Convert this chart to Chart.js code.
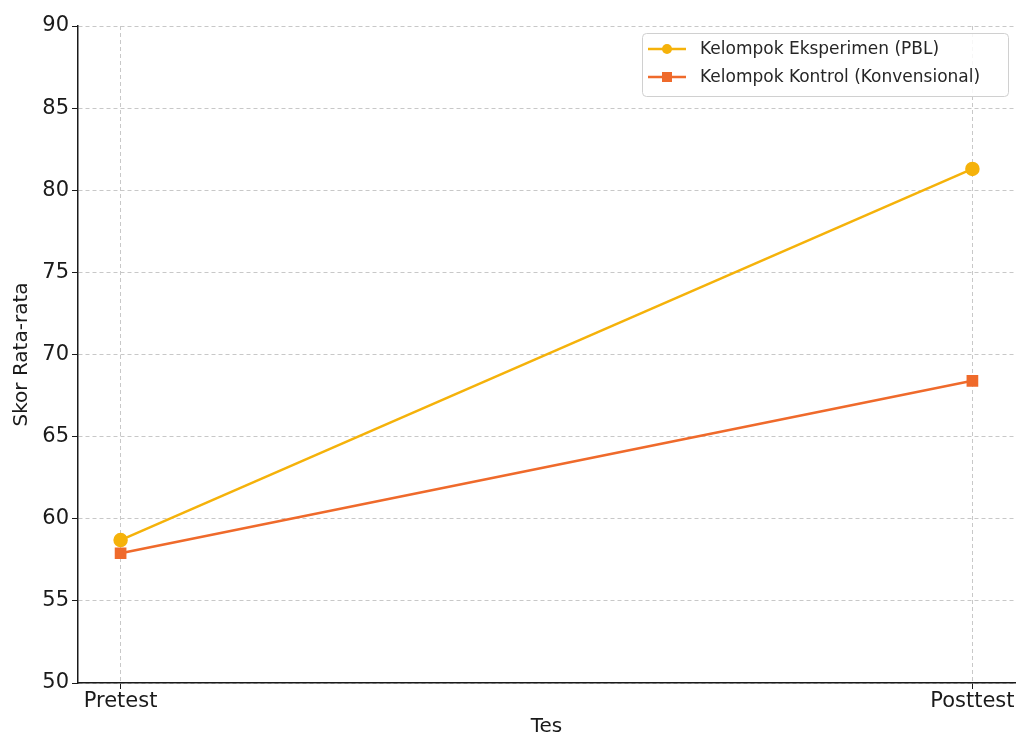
<!DOCTYPE html>
<html>
<head>
<meta charset="utf-8">
<script src="https://cdn.jsdelivr.net/npm/chart.js@4.4.1/dist/chart.umd.min.js"></script>
<style>
  html, body { margin: 0; padding: 0; background: #fff; overflow: hidden; }
  #wrap { width: 1017px; height: 735px; position: relative; overflow: hidden; }
  canvas { position: absolute; left: 0; top: 0; }
</style>
</head>
<body>
<div id="wrap"><canvas id="chart" width="1040" height="735"></canvas></div>
<script>
"use strict";

var categories = [ "Pretest", "Posttest" ];
var eksperimen = [ 58.7, 81.3 ];
var kontrol = [ 57.9, 68.4 ];
var yTicks = [ 50, 55, 60, 65, 70, 75, 80, 85, 90 ];

var FONT = "'DejaVu Sans', sans-serif";
var GOLD = "#f5b20a", ORANGE = "#ef6a2b";

function points(vals) {
    return vals.map(function(v, i) { return { x: i, y: v }; });
}

// legend box drawn like matplotlib's, upper right
var legendBox = {
    id: "legendBox",
    afterDraw: function(chart) {
        var ctx = chart.ctx, ds = chart.data.datasets;
        var x = 642, y = 33, w = 366, h = 63;
        ctx.save();
        ctx.fillStyle = "rgba(255,255,255,0.85)";
        ctx.strokeStyle = "#d0d0d0";
        ctx.lineWidth = 1;
        ctx.beginPath();
        ctx.roundRect(x + 0.5, y + 0.5, w, h, 4);
        ctx.fill(); ctx.stroke();
        ds.forEach(function(d, i) {
            var cy = y + 16 + i * 28;
            ctx.strokeStyle = d.borderColor;
            ctx.lineWidth = 2.5;
            ctx.beginPath(); ctx.moveTo(648, cy); ctx.lineTo(686, cy); ctx.stroke();
            ctx.fillStyle = d.backgroundColor;
            if (d.pointStyle === "rect") ctx.fillRect(662, cy - 5, 10, 10);
            else { ctx.beginPath(); ctx.arc(667, cy, 5, 0, Math.PI * 2); ctx.fill(); }
            ctx.fillStyle = "#262626";
            ctx.font = "17px " + FONT;
            ctx.textBaseline = "middle";
            ctx.fillText(d.label, 700, cy + 1);
        });
        ctx.restore();
    }
};

new Chart(document.getElementById("chart"), {
    type: "line",
    data: {
        datasets: [ {
            label: "Kelompok Eksperimen (PBL)",
            data: points(eksperimen),
            borderColor: GOLD,
            backgroundColor: GOLD,
            pointStyle: "circle",
            pointRadius: 6,
            borderWidth: 2.5
        }, {
            label: "Kelompok Kontrol (Konvensional)",
            data: points(kontrol),
            borderColor: ORANGE,
            backgroundColor: ORANGE,
            pointStyle: "rect",
            pointRadius: 6.5,
            borderWidth: 2.5
        } ]
    },
    plugins: [ legendBox ],
    options: {
        responsive: false,
        animation: false,
        devicePixelRatio: 1,
        layout: { padding: { left: 10, right: 25, top: 26, bottom: 0 } },
        plugins: { legend: { display: false }, tooltip: { enabled: false } },
        elements: { line: { tension: 0 } },
        scales: {
            x: {
                type: "linear",
                min: -0.05,
                max: 1.05,
                afterBuildTicks: function(s) {
                    s.ticks = categories.map(function(c, i) { return { value: i }; });
                },
                afterFit: function(s) { s.height = 52; },
                ticks: {
                    color: "#1a1a1a",
                    font: { family: FONT, size: 21 },
                    padding: 0,
                    maxRotation: 0,
                    autoSkip: false,
                    callback: function(v) { return categories[v]; }
                },
                grid: {
                    color: "#c8c8c8",
                    lineWidth: 1,
                    tickLength: 6,
                    tickColor: "#1a1a1a",
                    tickWidth: 1,
                    tickBorderDash: []
                },
                border: { display: true, color: "#1a1a1a", width: 1.5, dash: [ 4, 3 ] },
                title: {
                    display: true,
                    text: "Tes",
                    color: "#1a1a1a",
                    font: { family: FONT, size: 20, lineHeight: 0.85 },
                    padding: { top: 9, bottom: 0 }
                }
            },
            y: {
                min: 50,
                max: 90,
                afterBuildTicks: function(s) {
                    s.ticks = yTicks.map(function(v) { return { value: v }; });
                },
                afterFit: function(s) { s.width = 68; },
                ticks: {
                    color: "#1a1a1a",
                    font: { family: FONT, size: 21 },
                    padding: 3
                },
                grid: {
                    color: "#c8c8c8",
                    lineWidth: 1,
                    tickLength: 6,
                    tickColor: "#1a1a1a",
                    tickWidth: 1,
                    tickBorderDash: []
                },
                border: { display: true, color: "#1a1a1a", width: 1.5, dash: [ 4, 3 ] },
                title: {
                    display: true,
                    text: "Skor Rata-rata",
                    color: "#1a1a1a",
                    font: { family: FONT, size: 20 },
                    padding: { top: 0, bottom: 0 }
                }
            }
        }
    }
});
</script>
</body>
</html>
